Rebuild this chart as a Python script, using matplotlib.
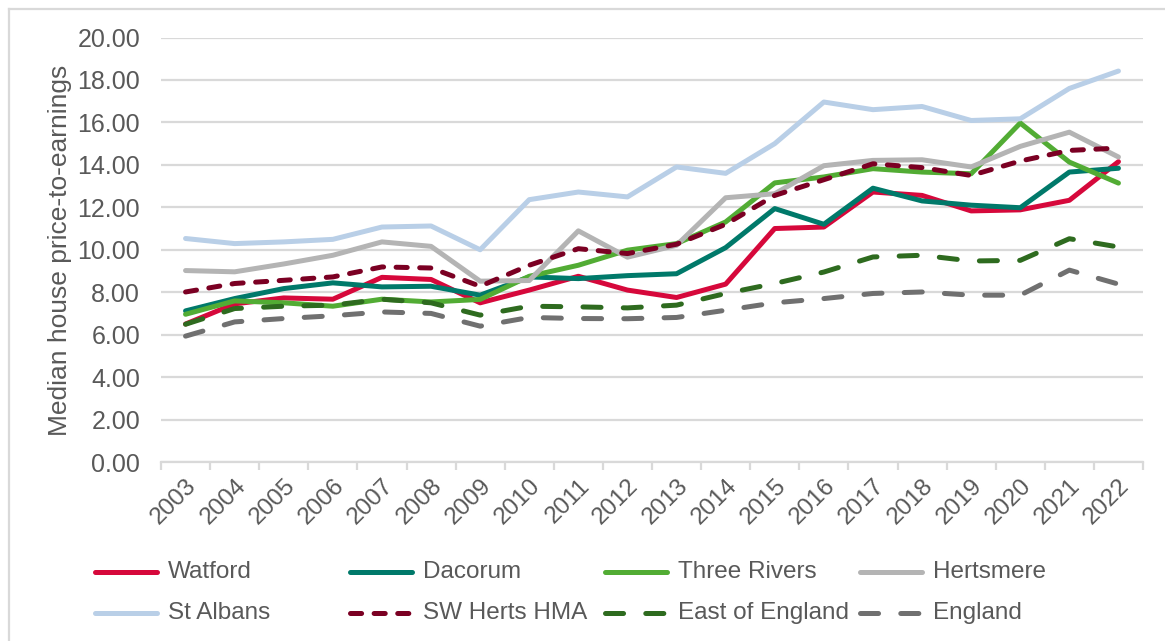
import matplotlib
matplotlib.use("Agg")
from matplotlib import pyplot as plt
from matplotlib.lines import Line2D
import numpy as np

plt.rcParams['font.family'] = ['Liberation Sans', 'DejaVu Sans']
plt.rcParams['lines.scale_dashes'] = False

# Data
years = [str(y) for y in range(2003, 2023)]
watford = [6.5, 7.45, 7.73, 7.67, 8.7, 8.6, 7.5, 8.1, 8.75, 8.1, 7.75, 8.38, 11.0, 11.07, 12.72, 12.56, 11.83, 11.88, 12.33, 14.15]
dacorum = [7.12, 7.7, 8.17, 8.44, 8.25, 8.28, 7.86, 8.72, 8.64, 8.78, 8.87, 10.1, 11.94, 11.2, 12.9, 12.3, 12.1, 11.98, 13.66, 13.84]
three_rivers = [6.96, 7.59, 7.5, 7.34, 7.67, 7.54, 7.66, 8.75, 9.27, 9.98, 10.29, 11.31, 13.15, 13.43, 13.82, 13.66, 13.58, 15.97, 14.13, 13.14]
hertsmere = [9.02, 8.96, 9.33, 9.74, 10.37, 10.16, 8.52, 8.55, 10.89, 9.65, 10.21, 12.45, 12.64, 13.96, 14.21, 14.24, 13.9, 14.87, 15.54, 14.37]
st_albans = [10.53, 10.29, 10.37, 10.49, 11.07, 11.12, 10.0, 12.36, 12.72, 12.49, 13.9, 13.6, 15.0, 16.96, 16.6, 16.75, 16.09, 16.17, 17.6, 18.42]
sw_herts = [8.01, 8.41, 8.56, 8.72, 9.19, 9.14, 8.28, 9.27, 10.05, 9.82, 10.26, 11.2, 12.56, 13.3, 14.05, 13.87, 13.5, 14.18, 14.68, 14.79]
east_england = [6.49, 7.23, 7.34, 7.39, 7.67, 7.5, 6.92, 7.34, 7.31, 7.26, 7.39, 7.94, 8.41, 8.95, 9.66, 9.74, 9.47, 9.5, 10.52, 10.13]
england = [5.93, 6.6, 6.76, 6.89, 7.07, 7.0, 6.4, 6.81, 6.76, 6.75, 6.81, 7.15, 7.5, 7.7, 7.94, 8.01, 7.86, 7.86, 9.04, 8.38]

labels = ["Watford", "Dacorum", "Three Rivers", "Hertsmere",
          "St Albans", "SW Herts HMA", "East of England", "England"]
series = [watford, dacorum, three_rivers, hertsmere, st_albans, sw_herts, east_england, england]
colors = ['#D6083B', '#00796A', '#52AC34', '#B4B4B4', '#B9CFE7', '#7B0023', '#2E6B1F', '#707070']
short_dash = (8, 9)
long_dash = (13, 16)
styles = [None, None, None, None, None, short_dash, long_dash, long_dash]

W, H = 1165, 641
fig = plt.figure(figsize=(W / 100, H / 100), dpi=100)
ax = fig.add_axes([161 / W, 1 - 462 / H, (1143 - 161) / W, (462 - 37.5) / H])

txt = '#595959'
grid = '#D9D9D9'
x = np.arange(len(years))
lw = 3.6

for vals, lab, col, ds in zip(series, labels, colors, styles):
    if ds is None:
        ax.plot(x, vals, color=col, lw=lw, solid_capstyle='round', solid_joinstyle='round', label=lab)
    else:
        ax.plot(x, vals, color=col, lw=lw, dashes=ds, dash_capstyle='round', dash_joinstyle='round', label=lab)

ax.set_xlim(-0.5, len(years) - 0.5)
ax.set_ylim(0, 20)
ax.set_yticks(np.arange(0, 21, 2))
ax.set_yticklabels([f"{v:.2f}" for v in np.arange(0, 21, 2)])
ax.yaxis.grid(True, color=grid, lw=1.6)
ax.set_axisbelow(True)
for s in ['top', 'right', 'left']:
    ax.spines[s].set_visible(False)
ax.spines['bottom'].set_color(grid)
ax.spines['bottom'].set_linewidth(1.6)

ax.set_xticks(x)
ax.set_xticklabels(years, rotation=45, ha='right', va='top', rotation_mode='anchor')
ax.set_xticks(np.arange(-0.5, len(years)), minor=True)
ax.tick_params(axis='x', which='major', length=0, pad=9, labelsize=17.5, labelcolor=txt)
ax.tick_params(axis='x', which='minor', length=6, width=1.6, color=grid)
ax.tick_params(axis='y', length=0, pad=15, labelsize=18, labelcolor=txt)

fig.text(60 / W, 1 - 250 / H, "Median house price-to-earnings", rotation=90,
         ha='center', va='center', fontsize=19, color=txt)

# legend laid out as a 4 x 2 grid
for i, (lab, col, ds) in enumerate(zip(labels, colors, styles)):
    r, c = divmod(i, 4)
    x0 = 95 + 255 * c
    yy = 1 - (572 + 41 * r) / H
    ln = Line2D([x0 / W, (x0 + 62) / W], [yy, yy], transform=fig.transFigure,
                color=col, lw=lw, solid_capstyle='round', dash_capstyle='round')
    if ds is not None:
        ln.set_dashes(ds)
    fig.add_artist(ln)
    fig.text((x0 + 73) / W, yy, lab, ha='left', va='center', fontsize=17.5, color=txt)

# light chart frame
fig.add_artist(Line2D([8.5 / W, 1], [1 - 8.5 / H, 1 - 8.5 / H], transform=fig.transFigure, color=grid, lw=1.6))
fig.add_artist(Line2D([8.5 / W, 8.5 / W], [0, 1 - 8.5 / H], transform=fig.transFigure, color=grid, lw=1.6))

fig.savefig("out.png", dpi=100)
